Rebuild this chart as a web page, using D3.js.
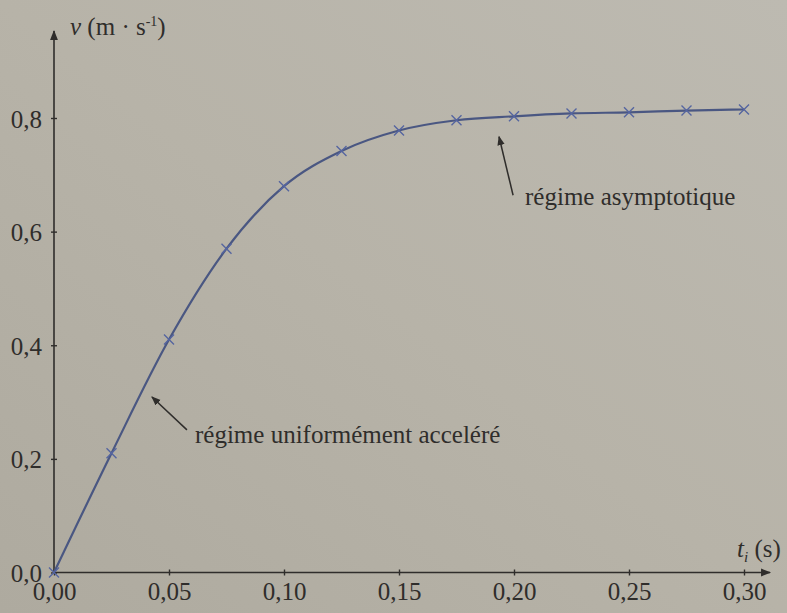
<!DOCTYPE html>
<html>
<head>
<meta charset="utf-8">
<script src="https://cdn.jsdelivr.net/npm/d3@7"></script>
<style>
  html, body { margin: 0; padding: 0; }
  body { width: 787px; height: 613px; overflow: hidden; }
  svg { display: block; }
  #chart text, #chart tspan { font-family: "Liberation Serif" !important; }
</style>
</head>
<body>
<svg id="chart" width="787" height="613"></svg>
<script>
// Vitesse mesurée v (m·s⁻¹) aux instants t_i (s)
const times  = [0, 0.025, 0.05, 0.075, 0.10, 0.125, 0.15, 0.175, 0.20, 0.225, 0.25, 0.275, 0.30];
const speeds = [0, 0.21, 0.41, 0.57, 0.68, 0.742, 0.778, 0.796, 0.803, 0.808, 0.81, 0.813, 0.815];

const xTicks = [0, 0.05, 0.10, 0.15, 0.20, 0.25, 0.30];
const yTicks = [0, 0.2, 0.4, 0.6, 0.8];

const annotations = [
  { text: "régime uniformément acceléré", tip: [0.0426, 0.309], tail: [0.0578, 0.251], at: [0.0613, 0.228] },
  { text: "régime asymptotique",          tip: [0.1935, 0.767], tail: [0.1996, 0.664], at: [0.2048, 0.647] }
];

const svg = d3.select("#chart");
const W = 787, H = 613;
const ink = "#2f2d2b";
const face = "Liberation Serif";

// paper background with slightly uneven lighting
const defs = svg.append("defs");
const bg = defs.append("linearGradient").attr("id", "paper")
  .attr("x1", "0").attr("y1", "1").attr("x2", "1").attr("y2", "0");
bg.append("stop").attr("offset", "0").attr("stop-color", "#aeaa9f");
bg.append("stop").attr("offset", "0.5").attr("stop-color", "#b7b3a8");
bg.append("stop").attr("offset", "1").attr("stop-color", "#bdbab1");
svg.append("rect").attr("width", W).attr("height", H).attr("fill", "url(#paper)");

defs.append("marker").attr("id", "head")
  .attr("viewBox", "0 0 10 10").attr("refX", 8).attr("refY", 5)
  .attr("markerWidth", 7).attr("markerHeight", 7).attr("orient", "auto")
  .append("path").attr("d", "M0,1.5 L9,5 L0,8.5 Z").attr("fill", ink);

const x = d3.scaleLinear().domain([0, 0.30]).range([54, 744]);
const y = d3.scaleLinear().domain([0, 0.8]).range([572.5, 118]);
const fmt = (d, n) => d.toFixed(n).replace(".", ",");

// axes lines with arrows
svg.append("line").attr("x1", x(0)).attr("y1", y(0)).attr("x2", 770).attr("y2", y(0))
  .attr("stroke", ink).attr("stroke-width", 1.6).attr("marker-end", "url(#head)");
svg.append("line").attr("x1", x(0)).attr("y1", y(0)).attr("x2", x(0)).attr("y2", 31)
  .attr("stroke", ink).attr("stroke-width", 1.6).attr("marker-end", "url(#head)");

// x axis ticks and labels
const gx = svg.append("g").attr("transform", `translate(0,${y(0)})`)
  .call(d3.axisBottom(x).tickValues(xTicks).tickSize(3).tickPadding(7).tickFormat(d => fmt(d, 2)));
gx.attr("font-family", face).attr("font-size", 25);
gx.select(".domain").remove();
gx.selectAll(".tick line").attr("y1", -3).attr("y2", 3).attr("stroke", ink).attr("stroke-width", 1.4);
gx.selectAll(".tick text").attr("font-family", face).attr("font-size", 25).attr("fill", ink);

// y axis ticks and labels
const gy = svg.append("g").attr("transform", `translate(${x(0)},0)`)
  .call(d3.axisLeft(y).tickValues(yTicks).tickSize(3).tickPadding(9).tickFormat(d => fmt(d, 1)));
gy.attr("font-family", face).attr("font-size", 25);
gy.select(".domain").remove();
gy.selectAll(".tick line").attr("x1", -3).attr("x2", 3).attr("stroke", ink).attr("stroke-width", 1.4);
gy.selectAll(".tick text").attr("font-family", face).attr("font-size", 25).attr("fill", ink)
  .attr("dy", "0.36em");

// axis titles
const vt = svg.append("text").attr("x", 70).attr("y", 35)
  .attr("font-family", face).attr("font-size", 25).attr("fill", ink);
vt.append("tspan").attr("font-style", "italic").text("v");
vt.append("tspan").text(" (m · s");
vt.append("tspan").attr("font-size", 14).attr("dy", -9).text("-1");
vt.append("tspan").attr("dy", 9).text(")");

const tt = svg.append("text").attr("x", 737).attr("y", 557)
  .attr("font-family", face).attr("font-size", 25).attr("fill", ink);
tt.append("tspan").attr("font-style", "italic").text("t");
tt.append("tspan").attr("font-style", "italic").attr("font-size", 15).attr("dy", 5).text("i");
tt.append("tspan").attr("dy", -5).text(" (s)");

// the velocity curve
const pts = times.map((t, i) => [t, speeds[i]]);
svg.append("path").datum(pts)
  .attr("fill", "none").attr("stroke", "#4a5782").attr("stroke-width", 2.2)
  .attr("d", d3.line().x(d => x(d[0])).y(d => y(d[1])).curve(d3.curveMonotoneX));

// measured points as crosses
const s = 5;
svg.append("g").selectAll("path").data(pts).join("path")
  .attr("d", d => {
    const cx = x(d[0]), cy = y(d[1]);
    return `M${cx - s},${cy - s}L${cx + s},${cy + s}M${cx - s},${cy + s}L${cx + s},${cy - s}`;
  })
  .attr("stroke", "#5565a0").attr("stroke-width", 1.4).attr("fill", "none");

// annotations
annotations.forEach(a => {
  svg.append("line")
    .attr("x1", x(a.tail[0])).attr("y1", y(a.tail[1]))
    .attr("x2", x(a.tip[0])).attr("y2", y(a.tip[1]))
    .attr("stroke", ink).attr("stroke-width", 1.5).attr("marker-end", "url(#head)");
  svg.append("text").attr("x", x(a.at[0])).attr("y", y(a.at[1]))
    .attr("font-family", face).attr("font-size", 25).attr("fill", ink).text(a.text);
});
</script>
</body>
</html>
